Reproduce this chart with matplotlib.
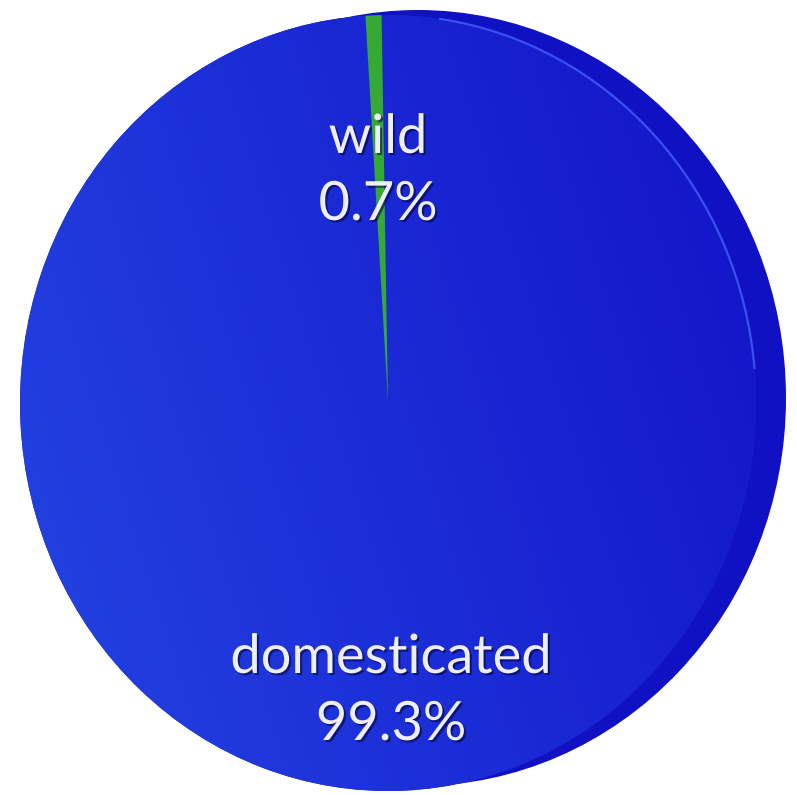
import numpy as np
import matplotlib
matplotlib.use("Agg")
import matplotlib.pyplot as plt
from matplotlib.patches import Ellipse, Arc
import matplotlib.patheffects as pe

# Share of the population
categories = ["wild", "domesticated"]
shares = [0.7, 99.3]
slice_colors = ["#36a835", "#1a2ad6"]

W, H = 797, 795
fig = plt.figure(figsize=(W / 100, H / 100), dpi=100)
fig.patch.set_facecolor("white")

# Pie face is an ellipse: centre and semi-axes in pixels
cx, cy, rx, ry = 388, 403, 368, 388
ax = fig.add_axes([(cx - rx) / W, (H - (cy + ry)) / H, 2 * rx / W, 2 * ry / H])
ax.set_axis_off()

# Rim of the disc, seen on the upper-right side
ax.add_patch(Ellipse((30 / rx, 5 / ry), 2.0, 2.0, facecolor="#1011c2",
                     edgecolor="none", zorder=0, clip_on=False))

wedges, _ = ax.pie(shares, colors=slice_colors, startangle=91, counterclock=True,
                   radius=1.0, wedgeprops=dict(linewidth=0))
ax.set_aspect("auto")
ax.set_xlim(-1, 1)
ax.set_ylim(-1, 1)
for w in wedges:
    w.set_zorder(1)
    w.set_clip_on(False)

# Shaded fill for the large slice: lighter on the left, deeper blue on the right
nx, ny = 200, 200
gx = np.linspace(0, 1, nx)[None, :]
gy = np.linspace(0, 1, ny)[:, None]
t = np.clip(0.75 * gx + 0.25 * (1 - gy), 0, 1)
light = np.array([0x24, 0x44, 0xe2]) / 255
dark = np.array([0x12, 0x12, 0xc8]) / 255
img = light[None, None, :] * (1 - t[..., None]) + dark[None, None, :] * t[..., None]
im = ax.imshow(img, extent=(-1, 1, -1, 1), origin="upper", aspect="auto",
               interpolation="bilinear", zorder=1.5)
im.set_clip_path(wedges[1])
wedges[0].set_zorder(2)

# Light highlight along the rim of the face
ax.add_patch(Arc((0, 0), 2.0, 2.0, theta1=5, theta2=82, color="#3a50f0",
                 lw=1.6, zorder=3, clip_on=False))

shadow = [pe.SimplePatchShadow(offset=(1.5, -1.5), shadow_rgbFace="#000033", alpha=0.55), pe.Normal()]
# (x centre, name baseline, value baseline) in pixels
label_pos = [(378, 153, 220), (391, 673, 740)]
for name, val, (px, yb1, yb2) in zip(categories, shares, label_pos):
    for txt, yb in ((name, yb1), (f"{val:.1f}%", yb2)):
        fig.text(px / W, 1 - yb / H, txt, ha="center", va="baseline",
                 color="#eeeef6", fontsize=39, family="Lato",
                 path_effects=shadow, zorder=5)

fig.savefig("out.png", dpi=100)
